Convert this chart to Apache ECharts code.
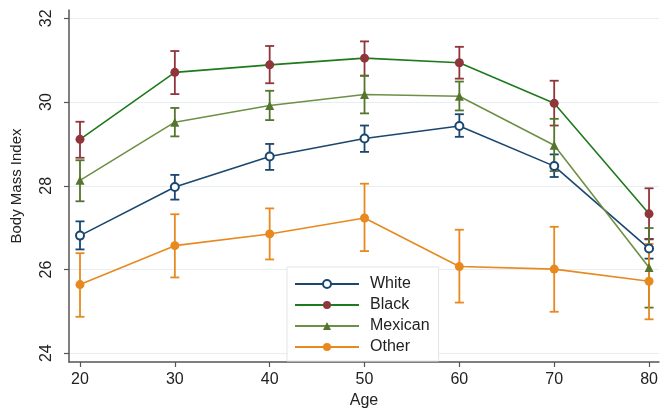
<!DOCTYPE html>
<html>
<head>
<meta charset="utf-8">
<script src="https://cdn.jsdelivr.net/npm/echarts@6/dist/echarts.min.js"></script>
<style>html,body{margin:0;padding:0;background:#fff}#c{width:671px;height:414px}</style>
</head>
<body>
<div id="c"></div>
<script>
var ages = [20, 30, 40, 50, 60, 70, 80];
var xTicks = [20, 30, 40, 50, 60, 70, 80];
var yTicks = [24, 26, 28, 30, 32];

var white   = [26.81, 27.97, 28.70, 29.13, 29.43, 28.47, 26.50];
var whiteLo = [26.48, 27.67, 28.38, 28.81, 29.17, 28.21, 26.26];
var whiteHi = [27.15, 28.26, 29.00, 29.44, 29.71, 28.75, 26.73];

var black   = [29.11, 30.71, 30.89, 31.05, 30.94, 29.97, 27.33];
var blackLo = [28.67, 30.19, 30.45, 30.63, 30.56, 29.44, 26.72];
var blackHi = [29.53, 31.22, 31.34, 31.45, 31.32, 30.51, 27.94];

var mexican   = [28.13, 29.52, 29.92, 30.18, 30.14, 28.97, 26.05];
var mexicanLo = [27.63, 29.18, 29.57, 29.73, 29.80, 28.35, 25.09];
var mexicanHi = [28.61, 29.86, 30.27, 30.63, 30.49, 29.60, 26.99];

var other   = [25.64, 26.57, 26.85, 27.23, 26.07, 26.01, 25.72];
var otherLo = [24.87, 25.81, 26.24, 26.44, 25.21, 24.99, 24.81];
var otherHi = [26.39, 27.32, 27.46, 28.05, 26.95, 27.02, 26.61];

var FONT = '"Liberation Sans", Arial, sans-serif';

function pts(vals) { return ages.map(function (a, i) { return [a, vals[i]]; }); }
function errData(lo, hi) { return ages.map(function (a, i) { return [a, lo[i], hi[i]]; }); }

function errSeries(lo, hi, color, z) {
  return {
    type: 'custom',
    silent: true,
    z: z,
    data: errData(lo, hi),
    renderItem: function (params, api) {
      var x = api.value(0);
      var pLo = api.coord([x, api.value(1)]);
      var pHi = api.coord([x, api.value(2)]);
      var w = 4.5;
      var st = { stroke: color, lineWidth: 1.8 };
      return {
        type: 'group',
        children: [
          { type: 'line', shape: { x1: pLo[0], y1: pLo[1], x2: pHi[0], y2: pHi[1] }, style: st },
          { type: 'line', shape: { x1: pHi[0] - w, y1: pHi[1], x2: pHi[0] + w, y2: pHi[1] }, style: st },
          { type: 'line', shape: { x1: pLo[0] - w, y1: pLo[1], x2: pLo[0] + w, y2: pLo[1] }, style: st }
        ]
      };
    }
  };
}

function lineSeries(name, vals, lineColor, markColor, symbol, size, z) {
  return {
    name: name,
    type: 'line',
    data: pts(vals),
    symbol: symbol,
    symbolSize: size,
    showAllSymbol: true,
    z: z,
    lineStyle: { color: lineColor, width: 1.6 },
    itemStyle: { color: markColor, borderColor: markColor, borderWidth: symbol === 'emptyCircle' ? 1.6 : 0 },
    emphasis: { disabled: true }
  };
}

var chart = echarts.init(document.getElementById('c'), null, { renderer: 'canvas' });
chart.setOption({
  animation: false,
  backgroundColor: '#ffffff',
  textStyle: { fontFamily: FONT },
  grid: { left: 69, right: 12, top: 10, bottom: 50, containLabel: false },
  xAxis: {
    type: 'value',
    min: 18.84, max: 81.05,
    name: 'Age', nameLocation: 'middle', nameGap: 31,
    nameTextStyle: { fontSize: 16, color: '#222', fontFamily: FONT },
    axisLine: { show: true, lineStyle: { color: '#555', width: 1.5 } },
    axisTick: { show: true, customValues: xTicks, length: 5, lineStyle: { color: '#555', width: 1.2 } },
    axisLabel: { customValues: xTicks, fontSize: 16, color: '#222', margin: 10, fontFamily: FONT },
    splitLine: { show: false }
  },
  yAxis: {
    type: 'value',
    min: 23.79, max: 32.2,
    name: 'Body Mass Index', nameLocation: 'middle', nameGap: 45,
    nameTextStyle: { fontSize: 15, color: '#222', fontFamily: FONT },
    axisLine: { show: true, lineStyle: { color: '#555', width: 1.5 } },
    axisTick: { show: true, customValues: yTicks, length: 5, lineStyle: { color: '#555', width: 1.2 } },
    axisLabel: { customValues: yTicks, fontSize: 16, color: '#222', margin: 14, rotate: 90, fontFamily: FONT },
    splitLine: { show: true, lineStyle: { color: '#e6eef0', width: 1 } }
  },
  legend: {
    data: ['White', 'Black', 'Mexican', 'Other'],
    orient: 'vertical',
    left: 287, top: 267,
    padding: [9, 9, 6, 7],
    itemWidth: 64, itemHeight: 10, itemGap: 5,
    backgroundColor: '#ffffff',
    borderColor: '#e4e4e4', borderWidth: 1,
    textStyle: { fontSize: 16, lineHeight: 14, color: '#222', fontFamily: FONT, padding: [0, 0, 0, 6] },
    selectedMode: false
  },
  series: [
    errSeries(whiteLo, whiteHi, '#1a476f', 2),
    errSeries(blackLo, blackHi, '#90353b', 2),
    errSeries(mexicanLo, mexicanHi, '#55752f', 2),
    errSeries(otherLo, otherHi, '#e8891f', 2),
    lineSeries('White', white, '#1a476f', '#1a476f', 'emptyCircle', 8, 3),
    lineSeries('Black', black, '#1d7a1d', '#90353b', 'circle', 9, 3),
    lineSeries('Mexican', mexican, '#6e8f46', '#55752f', 'triangle', 9, 3),
    lineSeries('Other', other, '#e8891f', '#e8891f', 'circle', 9, 3)
  ]
});
</script>
</body>
</html>
